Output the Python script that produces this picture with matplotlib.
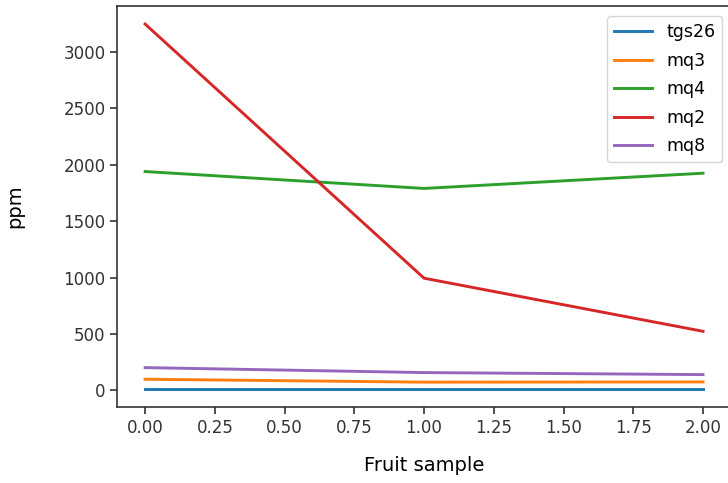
import numpy as np
import matplotlib
matplotlib.use('Agg')
import matplotlib.pyplot as plt

# sensor readings for each fruit sample
samples = [0, 1, 2]
tgs26 = [12, 12, 12]
mq3 = [98, 72, 74]
mq4 = [1940, 1790, 1925]
mq2 = [3248, 994, 523]
mq8 = [201, 157, 139]

series = [('tgs26', tgs26), ('mq3', mq3), ('mq4', mq4), ('mq2', mq2), ('mq8', mq8)]

fig = plt.figure(figsize=(7.28, 4.83), dpi=100)
ax = fig.add_axes([0.161, 0.157, 0.843, 0.831])

for name, vals in series:
    ax.plot(samples, vals, label=name, linewidth=2.1)

ax.set_xlabel('Fruit sample', fontsize=14, labelpad=14)
ax.set_ylabel('ppm', fontsize=14, labelpad=28)
ax.set_xticks(np.arange(0, 2.01, 0.25))
ax.tick_params(labelsize=12, length=5, width=1.2, colors='#333333')
for s in ax.spines.values():
    s.set_color('#333333')
    s.set_linewidth(1.2)

ax.legend(loc='upper right', fontsize=12.5, bbox_to_anchor=(1.0, 0.995),
          handlelength=2.2, labelspacing=0.6)

fig.savefig('out.png', dpi=100)
